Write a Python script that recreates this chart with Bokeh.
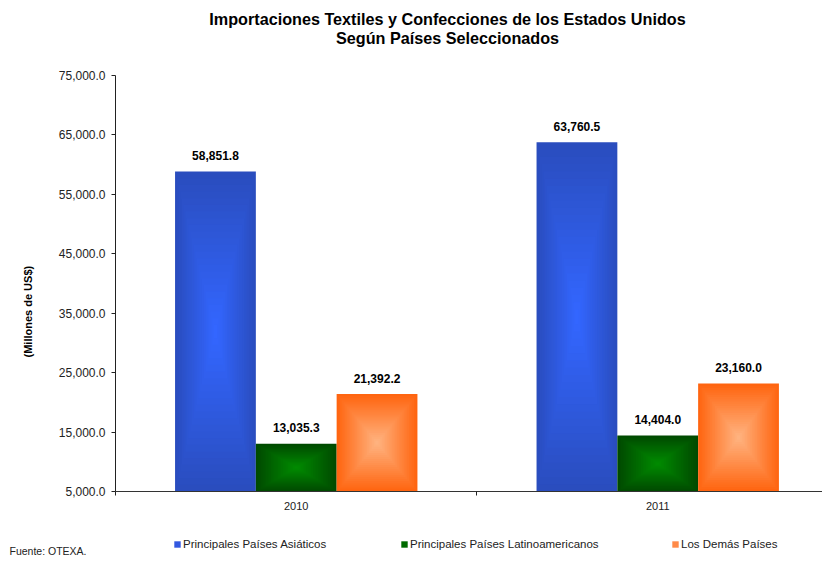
from bokeh.plotting import figure
from bokeh.layouts import column
from bokeh.models import Range1d, FixedTicker, NumeralTickFormatter, Legend, LegendItem, Title
from bokeh.embed import file_html
from bokeh.resources import INLINE
from bokeh.core.properties import value

# ---------------- data ----------------
years = ["2010", "2011"]
series = ["Principales Países Asiáticos", "Principales Países Latinoamericanos", "Los Demás Países"]
asia = [58851.8, 63760.5]
latam = [13035.3, 14404.0]
otros = [21392.2, 23160.0]
y_ticks = [5000, 15000, 25000, 35000, 45000, 55000, 65000, 75000]
title1 = "Importaciones Textiles y Confecciones de los Estados Unidos"
title2 = "Según Países Seleccionados"
y_title = "(Millones de US$)"
source_note = "Fuente: OTEXA."

values = [asia, latam, otros]
edge_cols = ["#2A4DBE", "#004A00", "#FF6510"]
center_cols = ["#3366FF", "#008A00", "#FFB27F"]
swatch_cols = ["#3358E0", "#006A00", "#FF8A48"]

FONT = "Liberation Sans"

# ---------------- layout constants (pixels) ----------------
W = 822
HEAD_H = 65          # header strip with the title
TOP_B = 10           # main figure top border
FRAME_H = 416
BOT_B = 30
FOOT_H = 556 - HEAD_H - TOP_B - FRAME_H - BOT_B
FL = 114
cat_px = 362.0
x_start = -0.5
x_end = x_start + (W - FL) / cat_px
y0, y1 = 5000, 75000


def blank_fig(h):
    f = figure(width=W, height=h, x_range=Range1d(0, W), y_range=Range1d(h, 0),
               output_backend="svg", toolbar_location=None, x_axis_type=None, y_axis_type=None,
               min_border=0, min_border_left=0, min_border_right=0, min_border_top=0, min_border_bottom=0)
    f.frame_align = False
    f.outline_line_color = None
    f.xgrid.visible = False
    f.ygrid.visible = False
    f.background_fill_color = "white"
    f.border_fill_color = "white"
    return f


# ---------------- header ----------------
head = blank_fig(HEAD_H)
head.text(x=[447, 447], y=[18, 37], text=[title1, title2], text_font=value(FONT),
          text_font_style="bold", text_font_size="16.2px", text_color="#000000",
          text_align="center", text_baseline="middle")

# ---------------- main chart ----------------
p = figure(width=W, height=TOP_B + FRAME_H + BOT_B, x_range=Range1d(x_start, x_end),
           y_range=Range1d(y0, y1), output_backend="svg", toolbar_location=None,
           min_border_left=FL, min_border_right=0, min_border_top=TOP_B, min_border_bottom=BOT_B)
p.frame_align = False
p.outline_line_color = None
p.xgrid.visible = False
p.ygrid.visible = False
p.background_fill_color = "white"
p.border_fill_color = "white"

bar_w = 0.2235
offsets = [-bar_w, 0.0, bar_w]
N = 24


def lerp(c1, c2, t):
    a = [int(c1[i:i + 2], 16) for i in (1, 3, 5)]
    b = [int(c2[i:i + 2], 16) for i in (1, 3, 5)]
    return "#%02x%02x%02x" % tuple(int(round(a[j] + (b[j] - a[j]) * t)) for j in range(3))


for s in range(3):
    vals = values[s]
    cx = [i + offsets[s] for i in range(len(years))]
    mid = [(y0 + v) / 2 for v in vals]
    hh = [(v - y0) / 2 for v in vals]
    for k in range(N):
        sc = 1 - k / N
        t = k / (N - 1)
        col = lerp(edge_cols[s], center_cols[s], t)
        p.quad(left=[c - bar_w / 2 * sc for c in cx], right=[c + bar_w / 2 * sc for c in cx],
               bottom=[m - h * sc for m, h in zip(mid, hh)], top=[m + h * sc for m, h in zip(mid, hh)],
               fill_color=col, line_color=None)
    p.text(x=cx, y=vals, text=["{:,.1f}".format(v) for v in vals],
           text_font=value(FONT), text_font_style="bold", text_font_size="12px",
           text_color="#000000", text_align="center", text_baseline="alphabetic", y_offset=-16)

# y axis
p.yaxis.ticker = FixedTicker(ticks=y_ticks)
p.yaxis.formatter = NumeralTickFormatter(format="0,0.0")
p.yaxis.major_label_text_font = FONT
p.yaxis.major_label_text_font_size = "12px"
p.yaxis.major_label_text_color = "#222222"
p.yaxis.major_tick_out = 4
p.yaxis.major_tick_in = 0
p.yaxis.minor_tick_out = 0
p.yaxis.minor_tick_in = 0
p.yaxis.major_label_standoff = 6
p.yaxis.axis_line_color = "#222222"
p.yaxis.major_tick_line_color = "#222222"

# x axis
p.xaxis.ticker = FixedTicker(ticks=[0, 1], minor_ticks=[-0.5, 0.5, 1.5])
p.xaxis.major_label_overrides = {0: years[0], 1: years[1]}
p.xaxis.major_tick_out = 0
p.xaxis.major_tick_in = 0
p.xaxis.minor_tick_out = 4
p.xaxis.minor_tick_in = 0
p.xaxis.minor_tick_line_color = "#222222"
p.xaxis.major_label_standoff = 6
p.xaxis.major_label_text_font = FONT
p.xaxis.major_label_text_font_size = "11px"
p.xaxis.major_label_text_color = "#222222"
p.xaxis.axis_line_color = "#333333"

# y title
p.add_layout(Title(text=y_title, align="left", offset=134, vertical_align="middle", standoff=41,
                   text_font=FONT, text_font_size="11px", text_font_style="bold",
                   text_color="#000000"), "left")

# ---------------- footer: legend + source ----------------
foot = blank_fig(FOOT_H)
leg_x = [173, 400, 671]
for s in range(3):
    # swatch renderer kept outside the visible range; only its legend glyph shows
    r = foot.quad(left=[-60], right=[-50], top=[-60], bottom=[-50], fill_color=swatch_cols[s], line_color=None)
    leg = Legend(items=[LegendItem(label=series[s], renderers=[r])], location=(leg_x[s], FOOT_H - 29),
                 padding=0, margin=0, border_line_color=None, background_fill_alpha=0,
                 glyph_width=8, glyph_height=8, label_standoff=2, label_height=12,
                 label_text_font=FONT, label_text_font_size="11.5px", label_text_color="#222222")
    foot.add_layout(leg)
foot.text(x=[9], y=[29], text=[source_note], text_font=value(FONT), text_font_size="10.5px",
          text_color="#222222", text_align="left", text_baseline="middle")

layout = column(head, p, foot, spacing=0)
open("out.html", "w").write(file_html(layout, INLINE))
